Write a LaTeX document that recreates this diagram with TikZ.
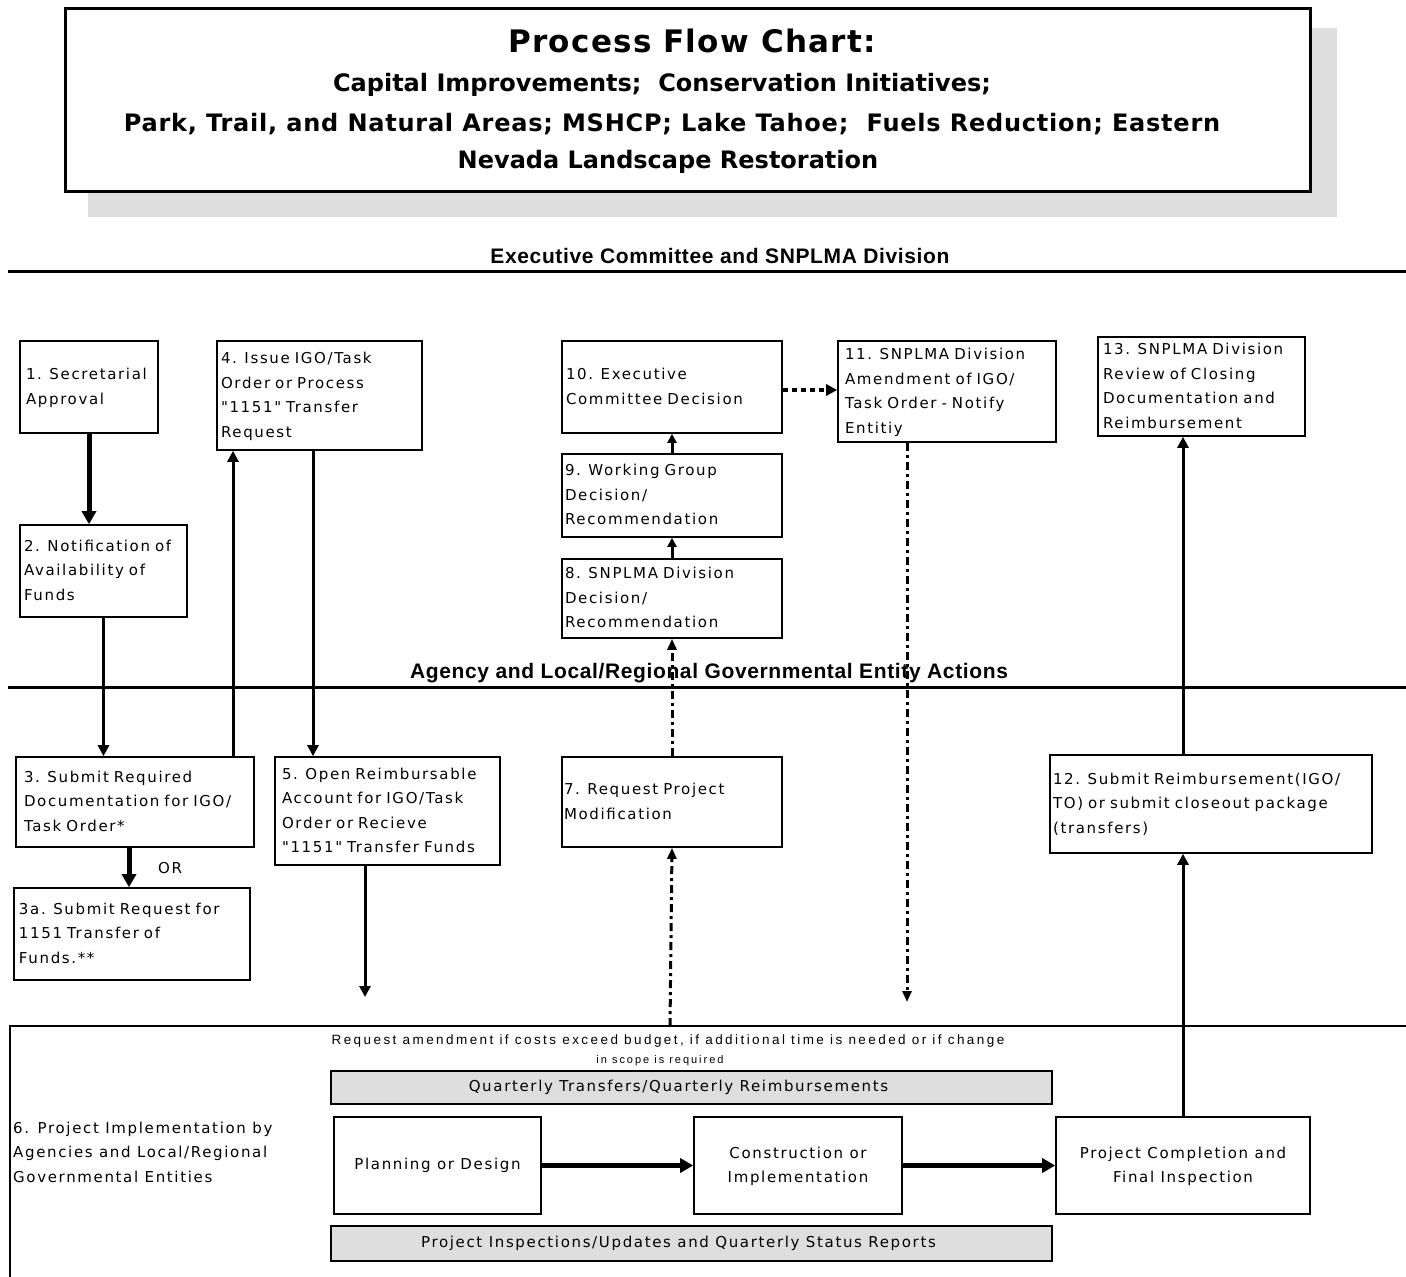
\documentclass[tikz,border=0pt]{standalone}
\usepackage{fontspec}
\newfontfamily\bodyfont[LetterSpace=11]{DejaVu Sans}
\newfontfamily\smallfont[LetterSpace=18]{Liberation Sans}
\newfontfamily\titleAfont[LetterSpace=4]{DejaVu Sans}
\newfontfamily\titleBfont{DejaVu Sans}
\newfontfamily\titleCfont[LetterSpace=3.2]{DejaVu Sans}
\newfontfamily\secfont[LetterSpace=3]{Liberation Sans}
\usetikzlibrary{arrows.meta,calc}
\definecolor{boxgrey}{RGB}{222,222,222}
\newcommand\Lrows[1]{\begin{tabular}{@{}l@{}}#1\end{tabular}}
\newcommand\Crows[1]{\begin{tabular}{@{}c@{}}#1\end{tabular}}
\begin{document}
\begin{tikzpicture}[x=1pt,y=-1pt,
 bodytext/.style={font=\bodyfont\fontsize{15}{24.5}\selectfont},
 box/.style={draw,line width=1.6pt,rectangle,inner ysep=0pt,align=left,bodytext},
 cbox/.style={draw,line width=1.6pt,rectangle,inner sep=0pt,align=center,bodytext},
 gbar/.style={draw,line width=1.6pt,fill=boxgrey,rectangle,inner sep=0pt,bodytext},
 arr/.style={line width=3pt,-{Triangle[length=11pt,width=11pt]}},
 smallarr/.style={line width=3pt,-{Triangle[length=9pt,width=9pt]}},
 bigarr/.style={line width=5pt,-{Triangle[length=13pt,width=14pt]}},
 dasharr/.style={line width=3pt,dash pattern=on 8pt off 4pt on 3pt off 4pt,-{Triangle[length=11pt,width=9pt]}},
 dotarr/.style={line width=4pt,dash pattern=on 5pt off 4pt,-{Triangle[length=11pt,width=11pt]}},
 sechead/.style={font=\secfont\bfseries\fontsize{21}{25}\selectfont,inner sep=0pt,anchor=base},
 titleA/.style={font=\titleAfont\bfseries\fontsize{31}{34}\selectfont,inner sep=0pt,anchor=base},
 titleB/.style={font=\titleBfont\bfseries\fontsize{24}{28}\selectfont,inner sep=0pt,anchor=base},
 titleC/.style={font=\titleCfont\bfseries\fontsize{24}{28}\selectfont,inner sep=0pt,anchor=base},
]
\useasboundingbox (0,0) rectangle (1406,1277);
\fill[white] (0,0) rectangle (1406,1277);

% title
\fill[boxgrey] (88,28) rectangle (1337,217);
\node[draw,line width=3pt,fill=white,minimum width=1245pt,minimum height=183pt,inner sep=0pt] (title) at (687.5,99.5) {};
\node[titleA] (tl1) at (692,52) {Process Flow Chart:};
\node[titleB] (tl2) at (662,91) {Capital Improvements;\ \ Conservation Initiatives;};
\node[titleC] (tl3) at (672,131) {Park, Trail, and Natural Areas; MSHCP; Lake Tahoe;\ \ Fuels Reduction; Eastern};
\node[titleB] (tl4) at (668,168) {Nevada Landscape Restoration};

% section headings and lines
\node[sechead] (sec1) at (720,263) {Executive Committee and SNPLMA Division};
\draw[line width=3pt] (8,271) -- (1406,271);
\node[sechead] (sec2) at (709,678) {Agency and Local/Regional Governmental Entity Actions};
\draw[line width=3pt] (8,687) -- (1406,687);

% upper boxes
\node[box,minimum width=138pt,minimum height=92pt,inner xsep=6pt,text width=126pt] (n1) at (89,387) {\Lrows{1. Secretarial\\Approval}};
\node[box,minimum width=167pt,minimum height=92pt,inner xsep=4pt,text width=159pt] (n2) at (103.5,571) {\Lrows{2. Notification of\\Availability of\\Funds}};
\node[box,minimum width=205pt,minimum height=109pt,inner xsep=4pt,text width=197pt] (n4) at (319.5,395.5) {\Lrows{4. Issue IGO/Task\\Order or Process\\"1151" Transfer\\Request}};
\node[box,minimum width=220pt,minimum height=92pt,inner xsep=4pt,text width=212pt] (n10) at (672,387) {\Lrows{10. Executive\\Committee Decision}};
\node[box,minimum width=220pt,minimum height=83pt,inner xsep=3pt,text width=214pt] (n9) at (672,495.5) {\Lrows{9. Working Group\\Decision/\\Recommendation}};
\node[box,minimum width=220pt,minimum height=79pt,inner xsep=3pt,text width=214pt] (n8) at (672,598.5) {\Lrows{8. SNPLMA Division\\Decision/\\Recommendation}};
\node[box,minimum width=218pt,minimum height=101pt,inner xsep=7pt,text width=204pt] (n11) at (947,391.5) {\Lrows{11. SNPLMA Division\\Amendment of IGO/\\Task Order - Notify\\Entitiy}};
\node[box,minimum width=207pt,minimum height=99pt,inner xsep=5pt,text width=197pt] (n13) at (1201.5,386.5) {\Lrows{13. SNPLMA Division\\Review of Closing\\Documentation and\\Reimbursement}};

% lower boxes
\node[box,minimum width=238pt,minimum height=90pt,inner xsep=8pt,text width=222pt] (n3) at (135,802) {\Lrows{3. Submit Required\\Documentation for IGO/\\Task Order*}};
\node[box,minimum width=236pt,minimum height=92pt,inner xsep=5pt,text width=226pt] (n3a) at (132,934) {\Lrows{3a. Submit Request for\\1151 Transfer of\\Funds.**}};
\node[box,minimum width=225pt,minimum height=108pt,inner xsep=7pt,text width=211pt] (n5) at (387.5,811) {\Lrows{5. Open Reimbursable\\Account for IGO/Task\\Order or Recieve\\"1151" Transfer Funds}};
\node[box,minimum width=220pt,minimum height=90pt,inner xsep=2pt,text width=216pt] (n7) at (672,802) {\Lrows{7. Request Project\\Modification}};
\node[box,minimum width=322pt,minimum height=98pt,inner xsep=3pt,text width=316pt] (n12) at (1211,804) {\Lrows{12. Submit Reimbursement(IGO/\\TO) or submit closeout package\\(transfers)}};

% implementation region
\draw[line width=1.5pt] (1406,1026) -- (10,1026) -- (10,1280);
\node[font=\smallfont\fontsize{13.5}{16}\selectfont,anchor=base,inner sep=0pt] (req1) at (668,1044) {Request amendment if costs exceed budget, if additional time is needed or if change};
\node[font=\smallfont\fontsize{11}{13}\selectfont,anchor=base,inner sep=0pt] (req2) at (660,1063) {in scope is required};
\node[gbar,minimum width=721pt,minimum height=33pt] (bar1) at (691.5,1087.5) {Quarterly Transfers/Quarterly Reimbursements\hspace*{26pt}};
\node[gbar,minimum width=721pt,minimum height=35pt] (bar2) at (691.5,1243.5) {Project Inspections/Updates and Quarterly Status Reports\hspace*{26pt}};
\node[cbox,minimum width=207pt,minimum height=97pt] (plan) at (437.5,1165.5) {Planning or Design};
\node[cbox,minimum width=208pt,minimum height=97pt] (cons) at (798,1165.5) {\Crows{Construction or\\Implementation}};
\node[cbox,minimum width=254pt,minimum height=97pt] (comp) at (1183,1165.5) {\Crows{Project Completion and\\Final Inspection}};
\node[bodytext,anchor=west,inner sep=0pt] (n6) at (13,1153) {\Lrows{6. Project Implementation by\\Agencies and Local/Regional\\Governmental Entities}};

% free ends
\coordinate (e5) at (365,997);
\coordinate (e11) at (907,1002);
\coordinate (r7) at (670,1026);

% connectors
\draw[bigarr] (n1.south) -- (n1.south |- n2.north);
\draw[arr] (n2.south) -- (n2.south |- n3.north);
\coordinate (a34) at ($(n3.north)+(98,0)$);
\draw[arr] (a34) -- (a34 |- n4.south);
\coordinate (a45) at ($(n4.south)+(-6.5,0)$);
\draw[arr] (a45) -- (a45 |- n5.north);
\coordinate (a33) at ($(n3.south)+(-6,0)$);
\draw[bigarr] (a33) -- (a33 |- n3a.north);
\node[bodytext,inner sep=0pt] (orl) at (170,868) {OR};
\draw[arr] (n5.south -| e5) -- (e5);
\draw[dasharr] (n7.north) -- (n8.south);
\draw[smallarr] (n8.north) -- (n9.south);
\draw[smallarr] (n9.north) -- (n10.south);
\coordinate (a1011) at ($(n10.east)+(0,3)$);
\draw[dotarr] (a1011) -- (a1011 -| n11.west);
\draw[dasharr] (n11.south -| e11) -- (e11);
\draw[dasharr] (r7) -- (n7.south);
\draw[arr] (comp.north) -- (comp.north |- n12.south);
\coordinate (a1213) at (comp.north |- n12.north);
\draw[arr] (a1213) -- (a1213 |- n13.south);
\draw[bigarr] (plan.east) -- (cons.west);
\draw[bigarr] (cons.east) -- (comp.west);
\end{tikzpicture}
\end{document}
